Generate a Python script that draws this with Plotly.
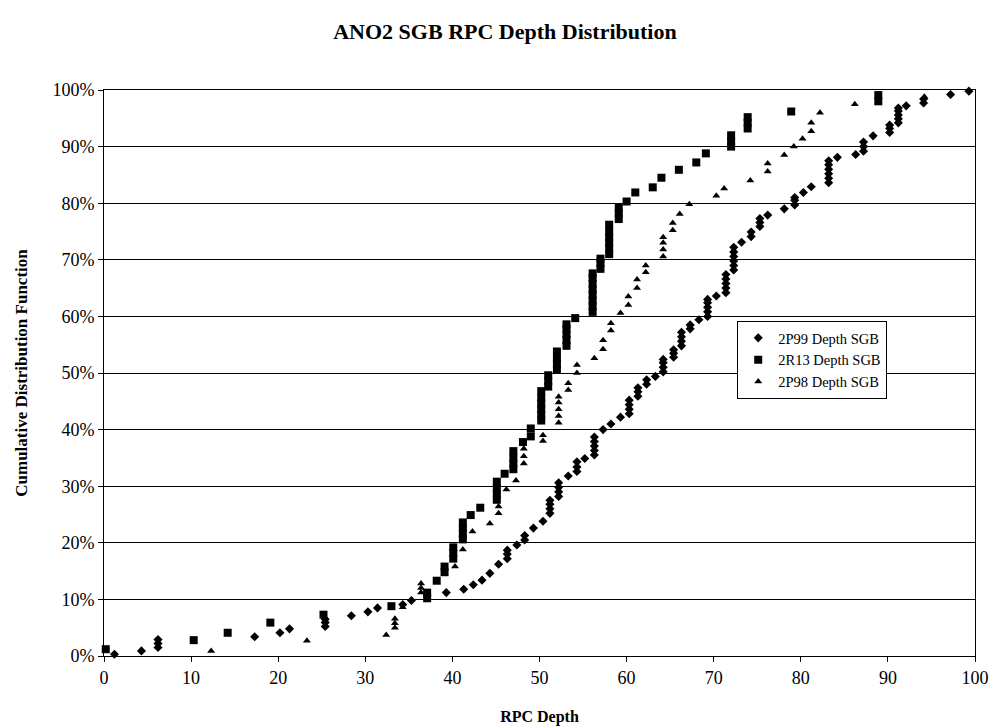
import plotly.graph_objects as go

# RPC depth (x) and cumulative fraction in percent (y) for each inspection set
p99_depth = [1.2, 4.3, 6.2, 6.2, 6.2, 17.3, 20.2, 21.3, 25.4, 25.4, 25.4, 28.4, 30.3, 31.4,
             34.3, 35.3, 39.3, 41.3, 42.4, 43.4, 44.3, 45.3, 46.3, 46.3, 46.3, 47.4, 48.3, 48.3,
             49.3, 50.4, 51.2, 51.2, 51.2, 51.2, 52.2, 52.2, 52.2, 52.2, 53.3, 54.3, 54.3, 54.3,
             55.2, 56.3, 56.3, 56.3, 56.3, 56.3, 57.3, 58.2, 59.3, 60.3, 60.3, 60.3, 60.3,
             61.3, 61.3, 61.3, 62.3, 62.3, 63.3, 64.2, 64.2, 64.2, 64.2, 65.4, 65.4, 65.4,
             66.3, 66.3, 66.3, 66.3, 67.3, 67.3, 68.3, 69.3, 69.3, 69.3, 69.3, 69.3, 70.3,
             71.4, 71.4, 71.4, 71.4, 71.4, 72.3, 72.3, 72.3, 72.3, 72.3, 72.3, 73.2, 74.3, 74.3,
             75.3, 75.3, 75.3, 76.2, 78.1, 79.3, 79.3, 79.3, 80.3, 81.2, 83.2, 83.2, 83.2, 83.2,
             83.2, 83.2, 84.2, 86.3, 87.2, 87.2, 87.2, 88.3, 90.2, 90.2, 90.2, 91.2, 91.2, 91.2,
             91.2, 91.2, 92.1, 94.1, 94.1, 97.2, 99.3]
p99_cdf = [0.3, 0.9, 1.5, 2.2, 2.9, 3.4, 4.1, 4.8, 5.2, 5.9, 6.5, 7.1, 7.8, 8.5,
           9.1, 9.8, 11.2, 11.8, 12.6, 13.4, 14.6, 16.2, 17.2, 18.0, 18.7, 19.6, 20.5, 21.3,
           22.6, 23.8, 25.2, 26.0, 26.8, 27.5, 28.2, 29.0, 29.8, 30.6, 31.8, 32.6, 33.4, 34.3,
           34.9, 35.5, 36.3, 37.1, 37.9, 38.7, 40.0, 41.0, 42.2, 42.8, 43.6, 44.4, 45.2,
           45.9, 46.7, 47.4, 48.0, 48.8, 49.4, 50.2, 51.0, 51.8, 52.4, 52.8, 53.5, 54.1,
           54.8, 55.6, 56.4, 57.2, 57.8, 58.5, 59.4, 60.0, 60.8, 61.6, 62.4, 63.0, 63.6,
           64.2, 65.0, 65.8, 66.6, 67.4, 68.2, 69.0, 69.8, 70.6, 71.4, 72.2, 73.1, 74.1, 74.9,
           75.9, 76.6, 77.3, 77.9, 79.0, 79.7, 80.5, 81.0, 81.9, 82.9, 83.6, 84.4, 85.2, 86.0,
           86.8, 87.5, 88.1, 88.6, 89.2, 90.0, 90.8, 91.9, 92.5, 93.2, 93.8, 94.2, 94.9, 95.6,
           96.3, 96.8, 97.2, 97.7, 98.4, 99.2, 99.8]

r13_depth = [0.2, 10.3, 14.2, 19.1, 25.2, 33.0, 37.1, 37.1, 38.2, 39.1, 39.1, 40.1, 40.1, 40.1,
             41.2, 41.2, 41.2, 41.2, 42.1, 43.2, 45.1, 45.1, 45.1, 45.1, 46.0, 47.0, 47.0, 47.0,
             47.0, 48.1, 49.0, 49.0, 50.2, 50.2, 50.2, 50.2, 50.2, 50.2, 51.0, 51.0, 51.0,
             52.0, 52.0, 52.0, 52.0, 53.1, 53.1, 53.1, 53.1, 53.1, 54.1, 56.1, 56.1, 56.1,
             56.1, 56.1, 56.1, 56.1, 56.1, 57.0, 57.0, 57.0, 58.0, 58.0, 58.0, 58.0, 58.0, 58.0,
             59.1, 59.1, 59.1, 60.0, 61.0, 63.0, 64.0, 66.0, 68.0, 69.1, 72.0, 72.0, 72.0,
             73.9, 73.9, 73.9, 78.9, 88.9, 88.9]
r13_cdf = [1.2, 2.8, 4.1, 5.9, 7.3, 8.8, 10.2, 11.2, 13.3, 14.8, 15.8, 17.2, 18.2, 19.2,
           20.6, 21.6, 22.6, 23.6, 24.9, 26.2, 27.6, 28.6, 29.6, 30.8, 32.2, 33.0, 34.0, 35.0,
           36.2, 37.8, 38.8, 40.2, 41.6, 42.6, 43.6, 44.6, 45.6, 46.8, 47.6, 48.6, 49.6,
           50.6, 51.6, 52.6, 53.8, 54.8, 55.8, 56.8, 57.8, 58.6, 59.7, 60.8, 61.8, 62.8,
           63.8, 64.8, 65.8, 66.8, 67.6, 68.4, 69.4, 70.2, 71.0, 72.0, 73.0, 74.0, 75.0, 76.2,
           77.2, 78.2, 79.2, 80.3, 81.9, 82.8, 84.5, 85.9, 87.2, 88.8, 90.0, 91.0, 92.0,
           93.2, 94.2, 95.2, 96.2, 98.0, 99.1]

p98_depth = [12.3, 23.3, 32.4, 33.4, 33.4, 33.4, 34.3, 36.4, 36.4, 36.4, 40.3, 41.2, 42.3,
             44.3, 45.3, 45.3, 46.2, 47.3, 48.2, 48.2, 48.2, 50.4, 50.4, 52.2, 52.2, 52.2,
             52.2, 52.2, 53.3, 53.3, 54.3, 54.3, 56.3, 57.3, 57.3, 58.2, 58.2, 59.3, 60.2,
             60.2, 61.2, 61.2, 62.2, 62.2, 64.2, 64.2, 64.2, 64.2, 65.3, 65.3, 66.1, 67.2,
             70.3, 71.2, 74.2, 76.2, 76.2, 78.1, 79.2, 80.2, 81.2, 81.2, 82.2, 86.2, 94.2]
p98_cdf = [0.9, 2.7, 3.7, 5.0, 5.8, 6.6, 8.6, 11.2, 12.0, 12.8, 15.8, 18.8, 22.0,
           23.4, 25.2, 26.4, 29.4, 31.0, 34.0, 35.3, 36.6, 38.0, 39.0, 41.2, 42.4, 43.6,
           44.8, 45.8, 47.0, 48.2, 50.0, 51.4, 52.6, 54.2, 55.8, 57.5, 58.8, 60.6, 62.0,
           63.5, 65.0, 66.5, 67.8, 69.0, 70.6, 71.8, 73.0, 74.0, 75.2, 76.5, 78.1, 79.8,
           81.3, 82.6, 84.0, 85.6, 87.0, 88.5, 90.0, 91.4, 92.7, 94.2, 96.0, 97.5, 98.8]

x_ticks = [0, 10, 20, 30, 40, 50, 60, 70, 80, 90, 100]
y_ticks = [0, 10, 20, 30, 40, 50, 60, 70, 80, 90, 100]
y_tick_labels = ["0%", "10%", "20%", "30%", "40%", "50%", "60%", "70%", "80%", "90%", "100%"]

SERIF = "Liberation Serif, Times New Roman, serif"

fig = go.Figure()
fig.add_trace(go.Scatter(x=p99_depth, y=p99_cdf, mode="markers", name="2P99 Depth SGB",
                         marker=dict(symbol="diamond", size=7, color="black"), cliponaxis=False))
fig.add_trace(go.Scatter(x=r13_depth, y=r13_cdf, mode="markers", name="2R13 Depth SGB",
                         marker=dict(symbol="square", size=8, color="black"), cliponaxis=False))
fig.add_trace(go.Scatter(x=p98_depth, y=p98_cdf, mode="markers", name="2P98 Depth SGB",
                         marker=dict(symbol="triangle-up", size=7, color="black"), cliponaxis=False))

fig.update_layout(
    width=998, height=728,
    margin=dict(l=104, r=23, t=90, b=72),
    paper_bgcolor="white", plot_bgcolor="white",
    font=dict(family=SERIF, color="black", size=18),
    title=dict(text="<b>ANO2 SGB RPC Depth Distribution</b>", x=0.506, xanchor="center",
               y=0.957, yanchor="middle", font=dict(size=22, family=SERIF)),
    showlegend=True,
    legend=dict(x=0.727, y=0.592, xanchor="left", yanchor="top",
                bordercolor="black", borderwidth=1, bgcolor="white",
                font=dict(size=14.5, family=SERIF), itemsizing="trace", itemwidth=30,
                tracegroupgap=0),
    xaxis=dict(range=[0, 100], tickvals=x_ticks, ticks="outside", ticklen=5,
               tickcolor="black", showline=True, linecolor="black", linewidth=1,
               mirror=True, showgrid=False, zeroline=False, automargin=False,
               title=dict(text="<b>RPC Depth</b>", font=dict(size=16), standoff=24)),
    yaxis=dict(range=[0, 100], tickvals=y_ticks, ticktext=y_tick_labels, ticks="outside",
               ticklen=5, tickcolor="black", showline=True, linecolor="black", linewidth=1,
               mirror=True, showgrid=True, gridcolor="black", gridwidth=1, zeroline=False,
               automargin=False,
               title=dict(text="<b>Cumulative Distribution Function</b>", font=dict(size=17),
                          standoff=20)),
)

fig.write_html("out.html")
